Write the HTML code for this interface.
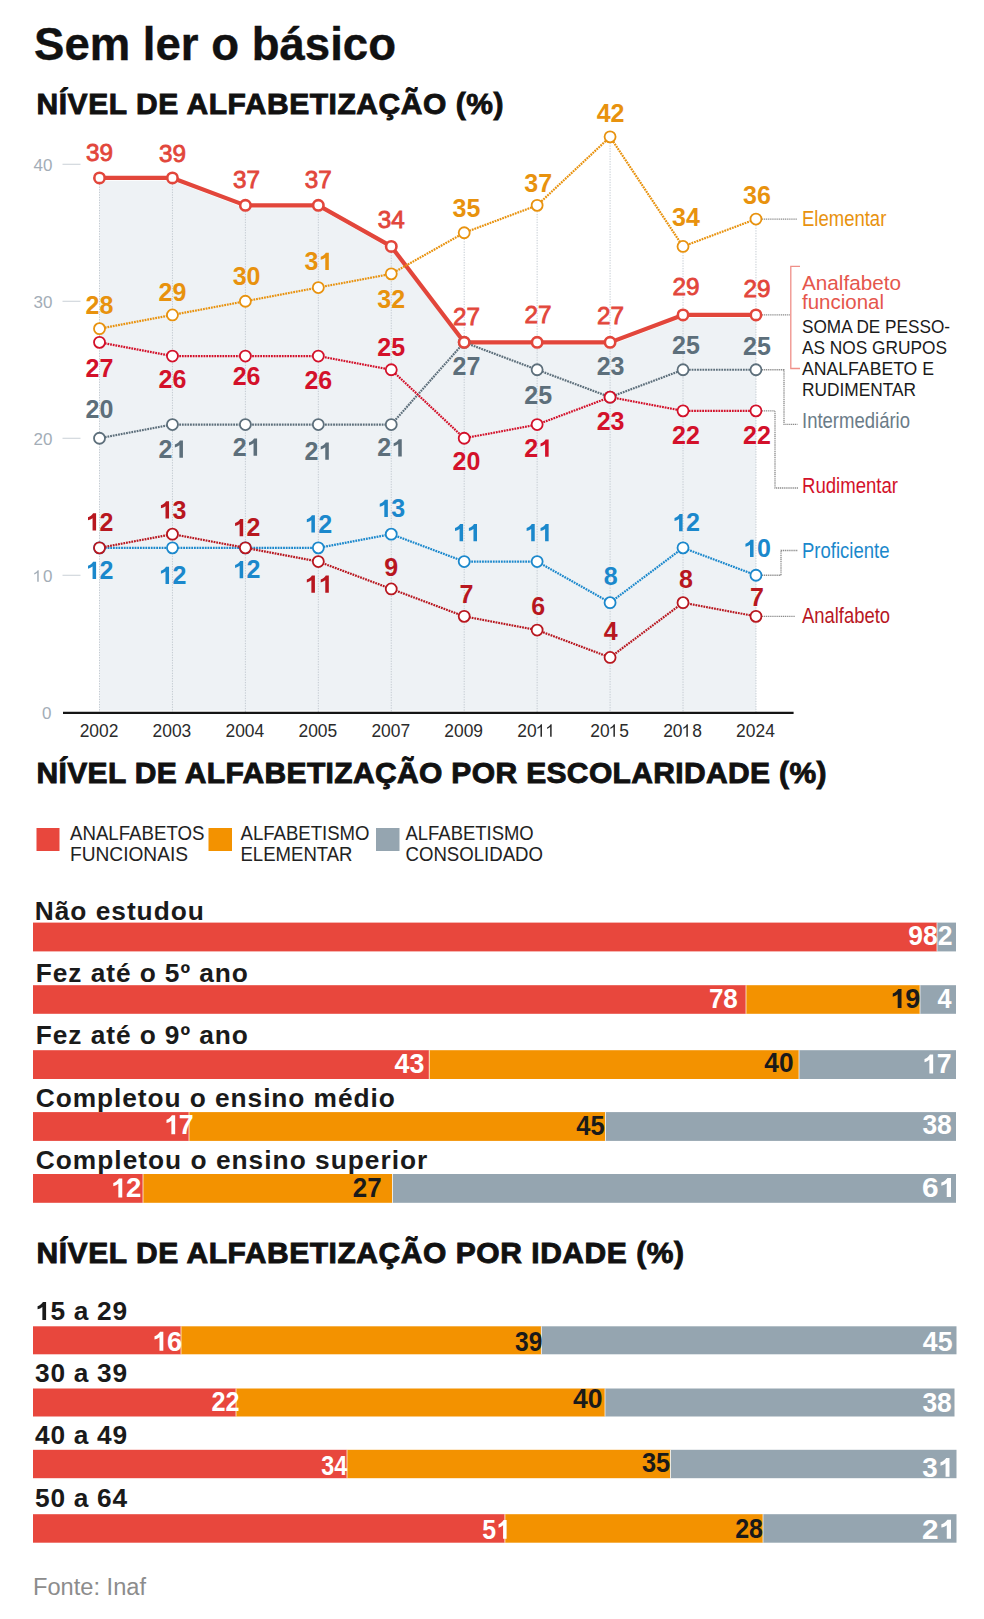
<!DOCTYPE html>
<html><head><meta charset="utf-8"><title>Sem ler o básico</title>
<style>
html,body{margin:0;padding:0;background:#fff;}
body{width:984px;height:1619px;overflow:hidden;}
svg{display:block;font-family:"Liberation Sans", sans-serif;}
</style></head><body>
<svg width="984" height="1619" viewBox="0 0 984 1619">
<rect width="984" height="1619" fill="#fff"/>
<polygon points="99.50,710.5 99.50,180.75 172.44,180.75 245.38,208.15 318.32,208.15 391.26,249.25 464.20,345.15 537.14,345.15 610.08,345.15 683.02,317.75 755.96,317.75 755.96,710.5" fill="#eef2f5"/>
<line x1="99.50" y1="183.95" x2="99.50" y2="712" stroke="#c3cad1" stroke-width="1" stroke-dasharray="1.3 1.3"/>
<line x1="172.44" y1="183.95" x2="172.44" y2="712" stroke="#c3cad1" stroke-width="1" stroke-dasharray="1.3 1.3"/>
<line x1="245.38" y1="211.35" x2="245.38" y2="712" stroke="#c3cad1" stroke-width="1" stroke-dasharray="1.3 1.3"/>
<line x1="318.32" y1="211.35" x2="318.32" y2="712" stroke="#c3cad1" stroke-width="1" stroke-dasharray="1.3 1.3"/>
<line x1="391.26" y1="252.45" x2="391.26" y2="712" stroke="#c3cad1" stroke-width="1" stroke-dasharray="1.3 1.3"/>
<line x1="464.20" y1="238.75" x2="464.20" y2="712" stroke="#c3cad1" stroke-width="1" stroke-dasharray="1.3 1.3"/>
<line x1="537.14" y1="211.35" x2="537.14" y2="712" stroke="#c3cad1" stroke-width="1" stroke-dasharray="1.3 1.3"/>
<line x1="610.08" y1="142.85" x2="610.08" y2="712" stroke="#c3cad1" stroke-width="1" stroke-dasharray="1.3 1.3"/>
<line x1="683.02" y1="252.45" x2="683.02" y2="712" stroke="#c3cad1" stroke-width="1" stroke-dasharray="1.3 1.3"/>
<line x1="755.96" y1="225.05" x2="755.96" y2="712" stroke="#c3cad1" stroke-width="1" stroke-dasharray="1.3 1.3"/>
<line x1="62.5" y1="575.25" x2="80.5" y2="575.25" stroke="#c9d0d6" stroke-width="1"/>
<text x="33.49" y="581.85" font-size="17" fill="#a3adb7" textLength="18.91" lengthAdjust="spacingAndGlyphs"> 0</text>
<path d="M630,0L450,0L450,1100C407,1062 350,1022 280,983C210,944 147,914 92,895L92,1062C191,1107 278,1161 352,1224C426,1287 478,1347 509,1409L630,1409Z" fill="#a3adb7" transform="translate(33.49,581.85) scale(0.00830,-0.00830)"/>
<line x1="62.5" y1="438.25" x2="80.5" y2="438.25" stroke="#c9d0d6" stroke-width="1"/>
<text x="33.49" y="444.85" font-size="17" fill="#a3adb7" textLength="18.91" lengthAdjust="spacingAndGlyphs">20</text>
<line x1="62.5" y1="301.25" x2="80.5" y2="301.25" stroke="#c9d0d6" stroke-width="1"/>
<text x="33.49" y="307.85" font-size="17" fill="#a3adb7" textLength="18.91" lengthAdjust="spacingAndGlyphs">30</text>
<line x1="62.5" y1="164.25" x2="80.5" y2="164.25" stroke="#c9d0d6" stroke-width="1"/>
<text x="33.49" y="170.85" font-size="17" fill="#a3adb7" textLength="18.91" lengthAdjust="spacingAndGlyphs">40</text>
<text x="51.5" y="719.45" text-anchor="end" font-size="17" fill="#a3adb7">0</text>
<line x1="63" y1="712.8" x2="793.6" y2="712.8" stroke="#151515" stroke-width="2.2"/>
<text x="79.65" y="736.75" font-size="18" fill="#2b2b2b" textLength="38.70" lengthAdjust="spacingAndGlyphs">2002</text>
<text x="152.59" y="736.75" font-size="18" fill="#2b2b2b" textLength="38.70" lengthAdjust="spacingAndGlyphs">2003</text>
<text x="225.53" y="736.75" font-size="18" fill="#2b2b2b" textLength="38.70" lengthAdjust="spacingAndGlyphs">2004</text>
<text x="298.47" y="736.75" font-size="18" fill="#2b2b2b" textLength="38.70" lengthAdjust="spacingAndGlyphs">2005</text>
<text x="371.41" y="736.75" font-size="18" fill="#2b2b2b" textLength="38.70" lengthAdjust="spacingAndGlyphs">2007</text>
<text x="444.35" y="736.75" font-size="18" fill="#2b2b2b" textLength="38.70" lengthAdjust="spacingAndGlyphs">2009</text>
<text x="517.29" y="736.75" font-size="18" fill="#2b2b2b" textLength="38.70" lengthAdjust="spacingAndGlyphs">20  </text>
<path d="M630,0L450,0L450,1100C407,1062 350,1022 280,983C210,944 147,914 92,895L92,1062C191,1107 278,1161 352,1224C426,1287 478,1347 509,1409L630,1409Z" fill="#2b2b2b" transform="translate(536.64,736.75) scale(0.00849,-0.00879)"/>
<path d="M630,0L450,0L450,1100C407,1062 350,1022 280,983C210,944 147,914 92,895L92,1062C191,1107 278,1161 352,1224C426,1287 478,1347 509,1409L630,1409Z" fill="#2b2b2b" transform="translate(546.31,736.75) scale(0.00849,-0.00879)"/>
<text x="590.23" y="736.75" font-size="18" fill="#2b2b2b" textLength="38.70" lengthAdjust="spacingAndGlyphs">20 5</text>
<path d="M630,0L450,0L450,1100C407,1062 350,1022 280,983C210,944 147,914 92,895L92,1062C191,1107 278,1161 352,1224C426,1287 478,1347 509,1409L630,1409Z" fill="#2b2b2b" transform="translate(609.58,736.75) scale(0.00849,-0.00879)"/>
<text x="663.17" y="736.75" font-size="18" fill="#2b2b2b" textLength="38.70" lengthAdjust="spacingAndGlyphs">20 8</text>
<path d="M630,0L450,0L450,1100C407,1062 350,1022 280,983C210,944 147,914 92,895L92,1062C191,1107 278,1161 352,1224C426,1287 478,1347 509,1409L630,1409Z" fill="#2b2b2b" transform="translate(682.52,736.75) scale(0.00849,-0.00879)"/>
<text x="736.11" y="736.75" font-size="18" fill="#2b2b2b" textLength="38.70" lengthAdjust="spacingAndGlyphs">2024</text>
<path d="M762.0,219.05 H797" fill="none" stroke="#8c8c8c" stroke-width="1.3" stroke-dasharray="1.2 0.7"/>
<path d="M762.0,314.95 H790" fill="none" stroke="#8c8c8c" stroke-width="1.3" stroke-dasharray="1.2 0.7"/>
<path d="M762.0,369.75 H784 V424.3 H797.5" fill="none" stroke="#8c8c8c" stroke-width="1.3" stroke-dasharray="1.2 0.7"/>
<path d="M762.0,410.85 H775 V488 H798" fill="none" stroke="#8c8c8c" stroke-width="1.3" stroke-dasharray="1.2 0.7"/>
<path d="M762.0,575.25 H781 V550.5 H797.5" fill="none" stroke="#8c8c8c" stroke-width="1.3" stroke-dasharray="1.2 0.7"/>
<path d="M762.0,616.35 H795" fill="none" stroke="#8c8c8c" stroke-width="1.3" stroke-dasharray="1.2 0.7"/>
<path d="M800,266.4 H790.8 V368.5 H800" fill="none" stroke="#ef8f88" stroke-width="1.3"/>
<polyline points="99.50,177.95 172.44,177.95 245.38,205.35 318.32,205.35 391.26,246.45 464.20,342.35 537.14,342.35 610.08,342.35 683.02,314.95 755.96,314.95" fill="none" stroke="#e2463b" stroke-width="4.2" stroke-linejoin="round"/>
<polyline points="99.50,438.25 172.44,424.55 245.38,424.55 318.32,424.55 391.26,424.55 464.20,342.35 537.14,369.75 610.08,397.15 683.02,369.75 755.96,369.75" fill="none" stroke="#5d6f7b" stroke-width="2.2" stroke-dasharray="1.8 0.9" stroke-linejoin="round"/>
<circle cx="99.50" cy="438.25" r="5.5" fill="#fff" stroke="#5d6f7b" stroke-width="1.8"/>
<circle cx="172.44" cy="424.55" r="5.5" fill="#fff" stroke="#5d6f7b" stroke-width="1.8"/>
<circle cx="245.38" cy="424.55" r="5.5" fill="#fff" stroke="#5d6f7b" stroke-width="1.8"/>
<circle cx="318.32" cy="424.55" r="5.5" fill="#fff" stroke="#5d6f7b" stroke-width="1.8"/>
<circle cx="391.26" cy="424.55" r="5.5" fill="#fff" stroke="#5d6f7b" stroke-width="1.8"/>
<circle cx="464.20" cy="342.35" r="5.5" fill="#fff" stroke="#5d6f7b" stroke-width="1.8"/>
<circle cx="537.14" cy="369.75" r="5.5" fill="#fff" stroke="#5d6f7b" stroke-width="1.8"/>
<circle cx="610.08" cy="397.15" r="5.5" fill="#fff" stroke="#5d6f7b" stroke-width="1.8"/>
<circle cx="683.02" cy="369.75" r="5.5" fill="#fff" stroke="#5d6f7b" stroke-width="1.8"/>
<circle cx="755.96" cy="369.75" r="5.5" fill="#fff" stroke="#5d6f7b" stroke-width="1.8"/>
<polyline points="99.50,547.85 172.44,547.85 245.38,547.85 318.32,547.85 391.26,534.15 464.20,561.55 537.14,561.55 610.08,602.65 683.02,547.85 755.96,575.25" fill="none" stroke="#1b88cc" stroke-width="2.2" stroke-dasharray="1.8 0.9" stroke-linejoin="round"/>
<circle cx="99.50" cy="547.85" r="5.5" fill="#fff" stroke="#1b88cc" stroke-width="1.8"/>
<circle cx="172.44" cy="547.85" r="5.5" fill="#fff" stroke="#1b88cc" stroke-width="1.8"/>
<circle cx="245.38" cy="547.85" r="5.5" fill="#fff" stroke="#1b88cc" stroke-width="1.8"/>
<circle cx="318.32" cy="547.85" r="5.5" fill="#fff" stroke="#1b88cc" stroke-width="1.8"/>
<circle cx="391.26" cy="534.15" r="5.5" fill="#fff" stroke="#1b88cc" stroke-width="1.8"/>
<circle cx="464.20" cy="561.55" r="5.5" fill="#fff" stroke="#1b88cc" stroke-width="1.8"/>
<circle cx="537.14" cy="561.55" r="5.5" fill="#fff" stroke="#1b88cc" stroke-width="1.8"/>
<circle cx="610.08" cy="602.65" r="5.5" fill="#fff" stroke="#1b88cc" stroke-width="1.8"/>
<circle cx="683.02" cy="547.85" r="5.5" fill="#fff" stroke="#1b88cc" stroke-width="1.8"/>
<circle cx="755.96" cy="575.25" r="5.5" fill="#fff" stroke="#1b88cc" stroke-width="1.8"/>
<polyline points="99.50,547.85 172.44,534.15 245.38,547.85 318.32,561.55 391.26,588.95 464.20,616.35 537.14,630.05 610.08,657.45 683.02,602.65 755.96,616.35" fill="none" stroke="#b8171f" stroke-width="2.2" stroke-dasharray="1.8 0.9" stroke-linejoin="round"/>
<circle cx="99.50" cy="547.85" r="5.5" fill="#fff" stroke="#b8171f" stroke-width="1.8"/>
<circle cx="172.44" cy="534.15" r="5.5" fill="#fff" stroke="#b8171f" stroke-width="1.8"/>
<circle cx="245.38" cy="547.85" r="5.5" fill="#fff" stroke="#b8171f" stroke-width="1.8"/>
<circle cx="318.32" cy="561.55" r="5.5" fill="#fff" stroke="#b8171f" stroke-width="1.8"/>
<circle cx="391.26" cy="588.95" r="5.5" fill="#fff" stroke="#b8171f" stroke-width="1.8"/>
<circle cx="464.20" cy="616.35" r="5.5" fill="#fff" stroke="#b8171f" stroke-width="1.8"/>
<circle cx="537.14" cy="630.05" r="5.5" fill="#fff" stroke="#b8171f" stroke-width="1.8"/>
<circle cx="610.08" cy="657.45" r="5.5" fill="#fff" stroke="#b8171f" stroke-width="1.8"/>
<circle cx="683.02" cy="602.65" r="5.5" fill="#fff" stroke="#b8171f" stroke-width="1.8"/>
<circle cx="755.96" cy="616.35" r="5.5" fill="#fff" stroke="#b8171f" stroke-width="1.8"/>
<polyline points="99.50,342.35 172.44,356.05 245.38,356.05 318.32,356.05 391.26,369.75 464.20,438.25 537.14,424.55 610.08,397.15 683.02,410.85 755.96,410.85" fill="none" stroke="#d3112a" stroke-width="2.2" stroke-dasharray="1.8 0.9" stroke-linejoin="round"/>
<circle cx="99.50" cy="342.35" r="5.5" fill="#fff" stroke="#d3112a" stroke-width="1.8"/>
<circle cx="172.44" cy="356.05" r="5.5" fill="#fff" stroke="#d3112a" stroke-width="1.8"/>
<circle cx="245.38" cy="356.05" r="5.5" fill="#fff" stroke="#d3112a" stroke-width="1.8"/>
<circle cx="318.32" cy="356.05" r="5.5" fill="#fff" stroke="#d3112a" stroke-width="1.8"/>
<circle cx="391.26" cy="369.75" r="5.5" fill="#fff" stroke="#d3112a" stroke-width="1.8"/>
<circle cx="464.20" cy="438.25" r="5.5" fill="#fff" stroke="#d3112a" stroke-width="1.8"/>
<circle cx="537.14" cy="424.55" r="5.5" fill="#fff" stroke="#d3112a" stroke-width="1.8"/>
<circle cx="610.08" cy="397.15" r="5.5" fill="#fff" stroke="#d3112a" stroke-width="1.8"/>
<circle cx="683.02" cy="410.85" r="5.5" fill="#fff" stroke="#d3112a" stroke-width="1.8"/>
<circle cx="755.96" cy="410.85" r="5.5" fill="#fff" stroke="#d3112a" stroke-width="1.8"/>
<polyline points="99.50,328.65 172.44,314.95 245.38,301.25 318.32,287.55 391.26,273.85 464.20,232.75 537.14,205.35 610.08,136.85 683.02,246.45 755.96,219.05" fill="none" stroke="#e8920e" stroke-width="2.2" stroke-dasharray="1.8 0.9" stroke-linejoin="round"/>
<circle cx="99.50" cy="328.65" r="5.5" fill="#fff" stroke="#e8920e" stroke-width="1.8"/>
<circle cx="172.44" cy="314.95" r="5.5" fill="#fff" stroke="#e8920e" stroke-width="1.8"/>
<circle cx="245.38" cy="301.25" r="5.5" fill="#fff" stroke="#e8920e" stroke-width="1.8"/>
<circle cx="318.32" cy="287.55" r="5.5" fill="#fff" stroke="#e8920e" stroke-width="1.8"/>
<circle cx="391.26" cy="273.85" r="5.5" fill="#fff" stroke="#e8920e" stroke-width="1.8"/>
<circle cx="464.20" cy="232.75" r="5.5" fill="#fff" stroke="#e8920e" stroke-width="1.8"/>
<circle cx="537.14" cy="205.35" r="5.5" fill="#fff" stroke="#e8920e" stroke-width="1.8"/>
<circle cx="610.08" cy="136.85" r="5.5" fill="#fff" stroke="#e8920e" stroke-width="1.8"/>
<circle cx="683.02" cy="246.45" r="5.5" fill="#fff" stroke="#e8920e" stroke-width="1.8"/>
<circle cx="755.96" cy="219.05" r="5.5" fill="#fff" stroke="#e8920e" stroke-width="1.8"/>
<circle cx="99.50" cy="177.95" r="5.2" fill="#fff" stroke="#e2463b" stroke-width="2.6"/>
<circle cx="172.44" cy="177.95" r="5.2" fill="#fff" stroke="#e2463b" stroke-width="2.6"/>
<circle cx="245.38" cy="205.35" r="5.2" fill="#fff" stroke="#e2463b" stroke-width="2.6"/>
<circle cx="318.32" cy="205.35" r="5.2" fill="#fff" stroke="#e2463b" stroke-width="2.6"/>
<circle cx="391.26" cy="246.45" r="5.2" fill="#fff" stroke="#e2463b" stroke-width="2.6"/>
<circle cx="464.20" cy="342.35" r="5.2" fill="#fff" stroke="#e2463b" stroke-width="2.6"/>
<circle cx="537.14" cy="342.35" r="5.2" fill="#fff" stroke="#e2463b" stroke-width="2.6"/>
<circle cx="610.08" cy="342.35" r="5.2" fill="#fff" stroke="#e2463b" stroke-width="2.6"/>
<circle cx="683.02" cy="314.95" r="5.2" fill="#fff" stroke="#e2463b" stroke-width="2.6"/>
<circle cx="755.96" cy="314.95" r="5.2" fill="#fff" stroke="#e2463b" stroke-width="2.6"/>
<text x="86.00" y="161.25" font-size="23.5" fill="#e2463b" stroke="#e2463b" stroke-width="0.8" textLength="27" lengthAdjust="spacingAndGlyphs">39</text>
<text x="158.94" y="162.00" font-size="23.5" fill="#e2463b" stroke="#e2463b" stroke-width="0.8" textLength="27" lengthAdjust="spacingAndGlyphs">39</text>
<text x="233.08" y="187.50" font-size="23.5" fill="#e2463b" stroke="#e2463b" stroke-width="0.8" textLength="27" lengthAdjust="spacingAndGlyphs">37</text>
<text x="304.82" y="187.50" font-size="23.5" fill="#e2463b" stroke="#e2463b" stroke-width="0.8" textLength="27" lengthAdjust="spacingAndGlyphs">37</text>
<text x="377.76" y="228.25" font-size="23.5" fill="#e2463b" stroke="#e2463b" stroke-width="0.8" textLength="27" lengthAdjust="spacingAndGlyphs">34</text>
<text x="453.00" y="325.00" font-size="23.5" fill="#e2463b" stroke="#e2463b" stroke-width="0.8" textLength="27" lengthAdjust="spacingAndGlyphs">27</text>
<text x="524.64" y="323.00" font-size="23.5" fill="#e2463b" stroke="#e2463b" stroke-width="0.8" textLength="27" lengthAdjust="spacingAndGlyphs">27</text>
<text x="597.08" y="323.75" font-size="23.5" fill="#e2463b" stroke="#e2463b" stroke-width="0.8" textLength="27" lengthAdjust="spacingAndGlyphs">27</text>
<text x="672.52" y="295.00" font-size="23.5" fill="#e2463b" stroke="#e2463b" stroke-width="0.8" textLength="27" lengthAdjust="spacingAndGlyphs">29</text>
<text x="743.46" y="297.00" font-size="23.5" fill="#e2463b" stroke="#e2463b" stroke-width="0.8" textLength="27" lengthAdjust="spacingAndGlyphs">29</text>
<text x="85.60" y="313.75" font-size="25" font-weight="bold" fill="#e8920e" textLength="27.81" lengthAdjust="spacingAndGlyphs">28</text>
<text x="158.54" y="301.25" font-size="25" font-weight="bold" fill="#e8920e" textLength="27.81" lengthAdjust="spacingAndGlyphs">29</text>
<text x="232.68" y="284.50" font-size="25" font-weight="bold" fill="#e8920e" textLength="27.81" lengthAdjust="spacingAndGlyphs">30</text>
<text x="304.42" y="270.00" font-size="25" font-weight="bold" fill="#e8920e" textLength="27.81" lengthAdjust="spacingAndGlyphs">3 </text>
<path d="M860,0L570,0L570,1010C470,925 340,865 196,830L196,1080C290,1110 380,1160 460,1230C540,1300 590,1360 612,1409L860,1409Z" fill="#e8920e" transform="translate(318.32,270.00) scale(0.01221,-0.01221)"/>
<text x="452.60" y="217.00" font-size="25" font-weight="bold" fill="#e8920e" textLength="27.81" lengthAdjust="spacingAndGlyphs">35</text>
<text x="524.24" y="192.00" font-size="25" font-weight="bold" fill="#e8920e" textLength="27.81" lengthAdjust="spacingAndGlyphs">37</text>
<text x="596.68" y="122.00" font-size="25" font-weight="bold" fill="#e8920e" textLength="27.81" lengthAdjust="spacingAndGlyphs">42</text>
<text x="672.12" y="226.25" font-size="25" font-weight="bold" fill="#e8920e" textLength="27.81" lengthAdjust="spacingAndGlyphs">34</text>
<text x="743.06" y="203.75" font-size="25" font-weight="bold" fill="#e8920e" textLength="27.81" lengthAdjust="spacingAndGlyphs">36</text>
<text x="377.36" y="308.20" font-size="25" font-weight="bold" fill="#e8920e" textLength="27.81" lengthAdjust="spacingAndGlyphs">32</text>
<text x="85.60" y="377.20" font-size="25" font-weight="bold" fill="#d3112a" textLength="27.81" lengthAdjust="spacingAndGlyphs">27</text>
<text x="158.54" y="387.70" font-size="25" font-weight="bold" fill="#d3112a" textLength="27.81" lengthAdjust="spacingAndGlyphs">26</text>
<text x="232.68" y="385.20" font-size="25" font-weight="bold" fill="#d3112a" textLength="27.81" lengthAdjust="spacingAndGlyphs">26</text>
<text x="304.42" y="388.95" font-size="25" font-weight="bold" fill="#d3112a" textLength="27.81" lengthAdjust="spacingAndGlyphs">26</text>
<text x="452.60" y="470.20" font-size="25" font-weight="bold" fill="#d3112a" textLength="27.81" lengthAdjust="spacingAndGlyphs">20</text>
<text x="524.24" y="456.70" font-size="25" font-weight="bold" fill="#d3112a" textLength="27.81" lengthAdjust="spacingAndGlyphs">2 </text>
<path d="M860,0L570,0L570,1010C470,925 340,865 196,830L196,1080C290,1110 380,1160 460,1230C540,1300 590,1360 612,1409L860,1409Z" fill="#d3112a" transform="translate(538.14,456.70) scale(0.01221,-0.01221)"/>
<text x="596.68" y="430.20" font-size="25" font-weight="bold" fill="#d3112a" textLength="27.81" lengthAdjust="spacingAndGlyphs">23</text>
<text x="672.12" y="443.95" font-size="25" font-weight="bold" fill="#d3112a" textLength="27.81" lengthAdjust="spacingAndGlyphs">22</text>
<text x="743.06" y="443.95" font-size="25" font-weight="bold" fill="#d3112a" textLength="27.81" lengthAdjust="spacingAndGlyphs">22</text>
<text x="377.36" y="356.25" font-size="25" font-weight="bold" fill="#d3112a" textLength="27.81" lengthAdjust="spacingAndGlyphs">25</text>
<text x="85.60" y="418.00" font-size="25" font-weight="bold" fill="#5d6f7b" textLength="27.81" lengthAdjust="spacingAndGlyphs">20</text>
<text x="158.54" y="457.70" font-size="25" font-weight="bold" fill="#5d6f7b" textLength="27.81" lengthAdjust="spacingAndGlyphs">2 </text>
<path d="M860,0L570,0L570,1010C470,925 340,865 196,830L196,1080C290,1110 380,1160 460,1230C540,1300 590,1360 612,1409L860,1409Z" fill="#5d6f7b" transform="translate(172.44,457.70) scale(0.01221,-0.01221)"/>
<text x="232.68" y="455.70" font-size="25" font-weight="bold" fill="#5d6f7b" textLength="27.81" lengthAdjust="spacingAndGlyphs">2 </text>
<path d="M860,0L570,0L570,1010C470,925 340,865 196,830L196,1080C290,1110 380,1160 460,1230C540,1300 590,1360 612,1409L860,1409Z" fill="#5d6f7b" transform="translate(246.58,455.70) scale(0.01221,-0.01221)"/>
<text x="304.42" y="459.70" font-size="25" font-weight="bold" fill="#5d6f7b" textLength="27.81" lengthAdjust="spacingAndGlyphs">2 </text>
<path d="M860,0L570,0L570,1010C470,925 340,865 196,830L196,1080C290,1110 380,1160 460,1230C540,1300 590,1360 612,1409L860,1409Z" fill="#5d6f7b" transform="translate(318.32,459.70) scale(0.01221,-0.01221)"/>
<text x="377.36" y="456.45" font-size="25" font-weight="bold" fill="#5d6f7b" textLength="27.81" lengthAdjust="spacingAndGlyphs">2 </text>
<path d="M860,0L570,0L570,1010C470,925 340,865 196,830L196,1080C290,1110 380,1160 460,1230C540,1300 590,1360 612,1409L860,1409Z" fill="#5d6f7b" transform="translate(391.26,456.45) scale(0.01221,-0.01221)"/>
<text x="452.60" y="375.20" font-size="25" font-weight="bold" fill="#5d6f7b" textLength="27.81" lengthAdjust="spacingAndGlyphs">27</text>
<text x="524.24" y="403.95" font-size="25" font-weight="bold" fill="#5d6f7b" textLength="27.81" lengthAdjust="spacingAndGlyphs">25</text>
<text x="596.68" y="375.00" font-size="25" font-weight="bold" fill="#5d6f7b" textLength="27.81" lengthAdjust="spacingAndGlyphs">23</text>
<text x="672.12" y="353.75" font-size="25" font-weight="bold" fill="#5d6f7b" textLength="27.81" lengthAdjust="spacingAndGlyphs">25</text>
<text x="743.06" y="354.50" font-size="25" font-weight="bold" fill="#5d6f7b" textLength="27.81" lengthAdjust="spacingAndGlyphs">25</text>
<text x="85.60" y="578.95" font-size="25" font-weight="bold" fill="#1b88cc" textLength="27.81" lengthAdjust="spacingAndGlyphs"> 2</text>
<path d="M860,0L570,0L570,1010C470,925 340,865 196,830L196,1080C290,1110 380,1160 460,1230C540,1300 590,1360 612,1409L860,1409Z" fill="#1b88cc" transform="translate(85.60,578.95) scale(0.01221,-0.01221)"/>
<text x="158.54" y="583.95" font-size="25" font-weight="bold" fill="#1b88cc" textLength="27.81" lengthAdjust="spacingAndGlyphs"> 2</text>
<path d="M860,0L570,0L570,1010C470,925 340,865 196,830L196,1080C290,1110 380,1160 460,1230C540,1300 590,1360 612,1409L860,1409Z" fill="#1b88cc" transform="translate(158.54,583.95) scale(0.01221,-0.01221)"/>
<text x="232.68" y="578.20" font-size="25" font-weight="bold" fill="#1b88cc" textLength="27.81" lengthAdjust="spacingAndGlyphs"> 2</text>
<path d="M860,0L570,0L570,1010C470,925 340,865 196,830L196,1080C290,1110 380,1160 460,1230C540,1300 590,1360 612,1409L860,1409Z" fill="#1b88cc" transform="translate(232.68,578.20) scale(0.01221,-0.01221)"/>
<text x="304.42" y="532.50" font-size="25" font-weight="bold" fill="#1b88cc" textLength="27.81" lengthAdjust="spacingAndGlyphs"> 2</text>
<path d="M860,0L570,0L570,1010C470,925 340,865 196,830L196,1080C290,1110 380,1160 460,1230C540,1300 590,1360 612,1409L860,1409Z" fill="#1b88cc" transform="translate(304.42,532.50) scale(0.01221,-0.01221)"/>
<text x="377.36" y="517.00" font-size="25" font-weight="bold" fill="#1b88cc" textLength="27.81" lengthAdjust="spacingAndGlyphs"> 3</text>
<path d="M860,0L570,0L570,1010C470,925 340,865 196,830L196,1080C290,1110 380,1160 460,1230C540,1300 590,1360 612,1409L860,1409Z" fill="#1b88cc" transform="translate(377.36,517.00) scale(0.01221,-0.01221)"/>
<text x="452.60" y="541.25" font-size="25" font-weight="bold" fill="#1b88cc" textLength="27.81" lengthAdjust="spacingAndGlyphs">  </text>
<path d="M860,0L570,0L570,1010C470,925 340,865 196,830L196,1080C290,1110 380,1160 460,1230C540,1300 590,1360 612,1409L860,1409Z" fill="#1b88cc" transform="translate(452.60,541.25) scale(0.01221,-0.01221)"/>
<path d="M860,0L570,0L570,1010C470,925 340,865 196,830L196,1080C290,1110 380,1160 460,1230C540,1300 590,1360 612,1409L860,1409Z" fill="#1b88cc" transform="translate(466.50,541.25) scale(0.01221,-0.01221)"/>
<text x="524.24" y="541.25" font-size="25" font-weight="bold" fill="#1b88cc" textLength="27.81" lengthAdjust="spacingAndGlyphs">  </text>
<path d="M860,0L570,0L570,1010C470,925 340,865 196,830L196,1080C290,1110 380,1160 460,1230C540,1300 590,1360 612,1409L860,1409Z" fill="#1b88cc" transform="translate(524.24,541.25) scale(0.01221,-0.01221)"/>
<path d="M860,0L570,0L570,1010C470,925 340,865 196,830L196,1080C290,1110 380,1160 460,1230C540,1300 590,1360 612,1409L860,1409Z" fill="#1b88cc" transform="translate(538.14,541.25) scale(0.01221,-0.01221)"/>
<text x="603.63" y="584.50" font-size="25" font-weight="bold" fill="#1b88cc" textLength="13.90" lengthAdjust="spacingAndGlyphs">8</text>
<text x="672.12" y="531.25" font-size="25" font-weight="bold" fill="#1b88cc" textLength="27.81" lengthAdjust="spacingAndGlyphs"> 2</text>
<path d="M860,0L570,0L570,1010C470,925 340,865 196,830L196,1080C290,1110 380,1160 460,1230C540,1300 590,1360 612,1409L860,1409Z" fill="#1b88cc" transform="translate(672.12,531.25) scale(0.01221,-0.01221)"/>
<text x="743.06" y="557.00" font-size="25" font-weight="bold" fill="#1b88cc" textLength="27.81" lengthAdjust="spacingAndGlyphs"> 0</text>
<path d="M860,0L570,0L570,1010C470,925 340,865 196,830L196,1080C290,1110 380,1160 460,1230C540,1300 590,1360 612,1409L860,1409Z" fill="#1b88cc" transform="translate(743.06,557.00) scale(0.01221,-0.01221)"/>
<text x="85.60" y="530.50" font-size="25" font-weight="bold" fill="#b8171f" textLength="27.81" lengthAdjust="spacingAndGlyphs"> 2</text>
<path d="M860,0L570,0L570,1010C470,925 340,865 196,830L196,1080C290,1110 380,1160 460,1230C540,1300 590,1360 612,1409L860,1409Z" fill="#b8171f" transform="translate(85.60,530.50) scale(0.01221,-0.01221)"/>
<text x="158.54" y="518.50" font-size="25" font-weight="bold" fill="#b8171f" textLength="27.81" lengthAdjust="spacingAndGlyphs"> 3</text>
<path d="M860,0L570,0L570,1010C470,925 340,865 196,830L196,1080C290,1110 380,1160 460,1230C540,1300 590,1360 612,1409L860,1409Z" fill="#b8171f" transform="translate(158.54,518.50) scale(0.01221,-0.01221)"/>
<text x="232.68" y="536.25" font-size="25" font-weight="bold" fill="#b8171f" textLength="27.81" lengthAdjust="spacingAndGlyphs"> 2</text>
<path d="M860,0L570,0L570,1010C470,925 340,865 196,830L196,1080C290,1110 380,1160 460,1230C540,1300 590,1360 612,1409L860,1409Z" fill="#b8171f" transform="translate(232.68,536.25) scale(0.01221,-0.01221)"/>
<text x="384.31" y="576.25" font-size="25" font-weight="bold" fill="#b8171f" textLength="13.90" lengthAdjust="spacingAndGlyphs">9</text>
<text x="459.55" y="602.50" font-size="25" font-weight="bold" fill="#b8171f" textLength="13.90" lengthAdjust="spacingAndGlyphs">7</text>
<text x="531.19" y="614.50" font-size="25" font-weight="bold" fill="#b8171f" textLength="13.90" lengthAdjust="spacingAndGlyphs">6</text>
<text x="603.63" y="640.00" font-size="25" font-weight="bold" fill="#b8171f" textLength="13.90" lengthAdjust="spacingAndGlyphs">4</text>
<text x="679.07" y="588.00" font-size="25" font-weight="bold" fill="#b8171f" textLength="13.90" lengthAdjust="spacingAndGlyphs">8</text>
<text x="750.01" y="605.50" font-size="25" font-weight="bold" fill="#b8171f" textLength="13.90" lengthAdjust="spacingAndGlyphs">7</text>
<text x="304.42" y="592.70" font-size="25" font-weight="bold" fill="#b8171f" textLength="27.81" lengthAdjust="spacingAndGlyphs">  </text>
<path d="M860,0L570,0L570,1010C470,925 340,865 196,830L196,1080C290,1110 380,1160 460,1230C540,1300 590,1360 612,1409L860,1409Z" fill="#b8171f" transform="translate(304.42,592.70) scale(0.01221,-0.01221)"/>
<path d="M860,0L570,0L570,1010C470,925 340,865 196,830L196,1080C290,1110 380,1160 460,1230C540,1300 590,1360 612,1409L860,1409Z" fill="#b8171f" transform="translate(318.32,592.70) scale(0.01221,-0.01221)"/>
<text x="802" y="225.5" font-size="21.5" fill="#e8920e" textLength="84.3" lengthAdjust="spacingAndGlyphs">Elementar</text>
<text x="802" y="290.4" font-size="20.5" fill="#e5564c" textLength="99" lengthAdjust="spacingAndGlyphs">Analfabeto</text>
<text x="802" y="309" font-size="20.5" fill="#e5564c" textLength="82" lengthAdjust="spacingAndGlyphs">funcional</text>
<text x="802" y="332.6" font-size="18.3" fill="#1a1a1a" textLength="148" lengthAdjust="spacingAndGlyphs">SOMA DE PESSO-</text>
<text x="802" y="353.6" font-size="18.3" fill="#1a1a1a" textLength="145" lengthAdjust="spacingAndGlyphs">AS NOS GRUPOS</text>
<text x="802" y="374.7" font-size="18.3" fill="#1a1a1a" textLength="132" lengthAdjust="spacingAndGlyphs">ANALFABETO E</text>
<text x="802" y="395.8" font-size="18.3" fill="#1a1a1a" textLength="114" lengthAdjust="spacingAndGlyphs">RUDIMENTAR</text>
<text x="802" y="427.8" font-size="21.5" fill="#6b7c88" textLength="108" lengthAdjust="spacingAndGlyphs">Intermediário</text>
<text x="802" y="493" font-size="21.5" fill="#d3112a" textLength="96" lengthAdjust="spacingAndGlyphs">Rudimentar</text>
<text x="802" y="557.5" font-size="21.5" fill="#1b88cc" textLength="87.5" lengthAdjust="spacingAndGlyphs">Proficiente</text>
<text x="802" y="622.7" font-size="21.5" fill="#b8171f" textLength="88" lengthAdjust="spacingAndGlyphs">Analfabeto</text>
<text x="34" y="59.8" font-size="47" font-weight="bold" fill="#111" stroke="#111" stroke-width="0.4" textLength="362" lengthAdjust="spacingAndGlyphs">Sem ler o básico</text>
<text x="36.5" y="113.7" font-size="30" font-weight="bold" fill="#111" stroke="#111" stroke-width="0.9" textLength="467" lengthAdjust="spacing">NÍVEL DE ALFABETIZAÇÃO (%)</text>
<text x="36.5" y="782.8" font-size="30" font-weight="bold" fill="#111" stroke="#111" stroke-width="0.9" textLength="790" lengthAdjust="spacing">NÍVEL DE ALFABETIZAÇÃO POR ESCOLARIDADE (%)</text>
<text x="36.5" y="1263" font-size="30" font-weight="bold" fill="#111" stroke="#111" stroke-width="0.9" textLength="647.5" lengthAdjust="spacing">NÍVEL DE ALFABETIZAÇÃO POR IDADE (%)</text>
<rect x="36.5" y="828" width="23" height="23" fill="#e8473d"/>
<rect x="208.5" y="828" width="23.5" height="23" fill="#f39200"/>
<rect x="376" y="828" width="23.5" height="23" fill="#95a5b0"/>
<text x="70" y="839.5" font-size="19.5" fill="#222" textLength="134.5" lengthAdjust="spacingAndGlyphs">ANALFABETOS</text>
<text x="70" y="860.5" font-size="19.5" fill="#222" textLength="118" lengthAdjust="spacingAndGlyphs">FUNCIONAIS</text>
<text x="240.5" y="839.5" font-size="19.5" fill="#222" textLength="129" lengthAdjust="spacingAndGlyphs">ALFABETISMO</text>
<text x="240.5" y="860.5" font-size="19.5" fill="#222" textLength="112" lengthAdjust="spacingAndGlyphs">ELEMENTAR</text>
<text x="405.5" y="839.5" font-size="19.5" fill="#222" textLength="128.2" lengthAdjust="spacingAndGlyphs">ALFABETISMO</text>
<text x="405.5" y="860.5" font-size="19.5" fill="#222" textLength="137.5" lengthAdjust="spacingAndGlyphs">CONSOLIDADO</text>
<text x="34.80" y="920" font-size="26.3" font-weight="bold" fill="#1a1a1a" textLength="169.00" lengthAdjust="spacing">Não estudou</text>
<rect x="33.00" y="922.6" width="904.00" height="28.8" fill="#e8473d"/>
<rect x="937.00" y="922.6" width="19.00" height="28.8" fill="#95a5b0"/>
<rect x="936.50" y="922.6" width="1" height="28.8" fill="#fff" opacity="0.7"/>
<text x="908.18" y="944.90" font-size="27.5" font-weight="bold" fill="#fff" textLength="29.43" lengthAdjust="spacingAndGlyphs">98</text>
<text x="937.68" y="944.90" font-size="27.5" font-weight="bold" fill="#fff" textLength="14.79" lengthAdjust="spacingAndGlyphs">2</text>
<text x="35.80" y="982" font-size="26.3" font-weight="bold" fill="#1a1a1a" textLength="212.00" lengthAdjust="spacing">Fez até o 5º ano</text>
<rect x="33.00" y="985.2" width="713.00" height="28.6" fill="#e8473d"/>
<rect x="746.00" y="985.2" width="174.00" height="28.6" fill="#f39200"/>
<rect x="920.00" y="985.2" width="36.00" height="28.6" fill="#95a5b0"/>
<rect x="745.50" y="985.2" width="1" height="28.6" fill="#fff" opacity="0.7"/>
<rect x="919.50" y="985.2" width="1" height="28.6" fill="#fff" opacity="0.7"/>
<text x="708.88" y="1007.70" font-size="27.5" font-weight="bold" fill="#fff" textLength="28.92" lengthAdjust="spacingAndGlyphs">78</text>
<text x="890.17" y="1007.90" font-size="27.5" font-weight="bold" fill="#1a1a1a" textLength="30.04" lengthAdjust="spacingAndGlyphs"> 9</text>
<path d="M860,0L570,0L570,1010C470,925 340,865 196,830L196,1080C290,1110 380,1160 460,1230C540,1300 590,1360 612,1409L860,1409Z" fill="#1a1a1a" transform="translate(890.17,1007.90) scale(0.01319,-0.01343)"/>
<text x="937.52" y="1007.90" font-size="27.5" font-weight="bold" fill="#fff" textLength="14.02" lengthAdjust="spacingAndGlyphs">4</text>
<text x="35.80" y="1044.4" font-size="26.3" font-weight="bold" fill="#1a1a1a" textLength="212.00" lengthAdjust="spacing">Fez até o 9º ano</text>
<rect x="33.00" y="1050.2" width="396.25" height="28.8" fill="#e8473d"/>
<rect x="429.25" y="1050.2" width="369.75" height="28.8" fill="#f39200"/>
<rect x="799.00" y="1050.2" width="157.00" height="28.8" fill="#95a5b0"/>
<rect x="428.75" y="1050.2" width="1" height="28.8" fill="#fff" opacity="0.7"/>
<rect x="798.50" y="1050.2" width="1" height="28.8" fill="#fff" opacity="0.7"/>
<text x="394.59" y="1072.90" font-size="27.5" font-weight="bold" fill="#fff" textLength="29.88" lengthAdjust="spacingAndGlyphs">43</text>
<text x="764.35" y="1071.90" font-size="27.5" font-weight="bold" fill="#1a1a1a" textLength="29.23" lengthAdjust="spacingAndGlyphs">40</text>
<text x="921.94" y="1073.40" font-size="27.5" font-weight="bold" fill="#fff" textLength="29.73" lengthAdjust="spacingAndGlyphs"> 7</text>
<path d="M860,0L570,0L570,1010C470,925 340,865 196,830L196,1080C290,1110 380,1160 460,1230C540,1300 590,1360 612,1409L860,1409Z" fill="#fff" transform="translate(921.94,1073.40) scale(0.01305,-0.01343)"/>
<text x="35.80" y="1106.6" font-size="26.3" font-weight="bold" fill="#1a1a1a" textLength="359.00" lengthAdjust="spacing">Completou o ensino médio</text>
<rect x="33.00" y="1112.1" width="156.00" height="28.8" fill="#e8473d"/>
<rect x="189.00" y="1112.1" width="416.50" height="28.8" fill="#f39200"/>
<rect x="605.50" y="1112.1" width="350.50" height="28.8" fill="#95a5b0"/>
<rect x="188.50" y="1112.1" width="1" height="28.8" fill="#fff" opacity="0.7"/>
<rect x="605.00" y="1112.1" width="1" height="28.8" fill="#fff" opacity="0.7"/>
<text x="163.94" y="1134.20" font-size="27.5" font-weight="bold" fill="#fff" textLength="29.73" lengthAdjust="spacingAndGlyphs"> 7</text>
<path d="M860,0L570,0L570,1010C470,925 340,865 196,830L196,1080C290,1110 380,1160 460,1230C540,1300 590,1360 612,1409L860,1409Z" fill="#fff" transform="translate(163.94,1134.20) scale(0.01305,-0.01343)"/>
<text x="576.31" y="1135.40" font-size="27.5" font-weight="bold" fill="#1a1a1a" textLength="28.40" lengthAdjust="spacingAndGlyphs">45</text>
<text x="922.39" y="1134.20" font-size="27.5" font-weight="bold" fill="#fff" textLength="29.42" lengthAdjust="spacingAndGlyphs">38</text>
<text x="35.80" y="1168.8" font-size="26.3" font-weight="bold" fill="#1a1a1a" textLength="391.50" lengthAdjust="spacing">Completou o ensino superior</text>
<rect x="33.00" y="1174" width="110.00" height="28.8" fill="#e8473d"/>
<rect x="143.00" y="1174" width="249.50" height="28.8" fill="#f39200"/>
<rect x="392.50" y="1174" width="563.50" height="28.8" fill="#95a5b0"/>
<rect x="142.50" y="1174" width="1" height="28.8" fill="#fff" opacity="0.7"/>
<rect x="392.00" y="1174" width="1" height="28.8" fill="#fff" opacity="0.7"/>
<text x="110.65" y="1197.40" font-size="27.5" font-weight="bold" fill="#fff" textLength="30.75" lengthAdjust="spacingAndGlyphs"> 2</text>
<path d="M860,0L570,0L570,1010C470,925 340,865 196,830L196,1080C290,1110 380,1160 460,1230C540,1300 590,1360 612,1409L860,1409Z" fill="#fff" transform="translate(110.65,1197.40) scale(0.01350,-0.01343)"/>
<text x="352.80" y="1197.20" font-size="27.5" font-weight="bold" fill="#1a1a1a" textLength="28.84" lengthAdjust="spacingAndGlyphs">27</text>
<text x="921.91" y="1196.90" font-size="27.5" font-weight="bold" fill="#fff" textLength="33.15" lengthAdjust="spacingAndGlyphs">6 </text>
<path d="M860,0L570,0L570,1010C470,925 340,865 196,830L196,1080C290,1110 380,1160 460,1230C540,1300 590,1360 612,1409L860,1409Z" fill="#fff" transform="translate(938.48,1196.90) scale(0.01455,-0.01343)"/>
<text x="35.05" y="1320" font-size="26.3" font-weight="bold" fill="#1a1a1a" textLength="92.00" lengthAdjust="spacing"> 5 a 29</text>
<path d="M860,0L570,0L570,1010C470,925 340,865 196,830L196,1080C290,1110 380,1160 460,1230C540,1300 590,1360 612,1409L860,1409Z" fill="#1a1a1a" transform="translate(35.05,1320) scale(0.01284,-0.01284)"/>
<rect x="33.00" y="1326.3" width="148.00" height="28" fill="#e8473d"/>
<rect x="181.00" y="1326.3" width="360.40" height="28" fill="#f39200"/>
<rect x="541.40" y="1326.3" width="415.10" height="28" fill="#95a5b0"/>
<rect x="180.50" y="1326.3" width="1" height="28" fill="#fff" opacity="0.7"/>
<rect x="540.90" y="1326.3" width="1" height="28" fill="#fff" opacity="0.7"/>
<text x="151.89" y="1350.70" font-size="27.5" font-weight="bold" fill="#fff" textLength="30.29" lengthAdjust="spacingAndGlyphs"> 6</text>
<path d="M860,0L570,0L570,1010C470,925 340,865 196,830L196,1080C290,1110 380,1160 460,1230C540,1300 590,1360 612,1409L860,1409Z" fill="#fff" transform="translate(151.89,1350.70) scale(0.01330,-0.01343)"/>
<text x="514.94" y="1351.20" font-size="27.5" font-weight="bold" fill="#1a1a1a" textLength="27.38" lengthAdjust="spacingAndGlyphs">39</text>
<text x="922.80" y="1351.20" font-size="27.5" font-weight="bold" fill="#fff" textLength="29.70" lengthAdjust="spacingAndGlyphs">45</text>
<text x="35.05" y="1382" font-size="26.3" font-weight="bold" fill="#1a1a1a" textLength="92.00" lengthAdjust="spacing">30 a 39</text>
<rect x="33.00" y="1388.5" width="203.00" height="28" fill="#e8473d"/>
<rect x="236.00" y="1388.5" width="369.00" height="28" fill="#f39200"/>
<rect x="605.00" y="1388.5" width="349.50" height="28" fill="#95a5b0"/>
<rect x="235.50" y="1388.5" width="1" height="28" fill="#fff" opacity="0.7"/>
<rect x="604.50" y="1388.5" width="1" height="28" fill="#fff" opacity="0.7"/>
<text x="211.52" y="1411.00" font-size="27.5" font-weight="bold" fill="#fff" textLength="28.19" lengthAdjust="spacingAndGlyphs">22</text>
<text x="573.00" y="1408.40" font-size="27.5" font-weight="bold" fill="#1a1a1a" textLength="29.59" lengthAdjust="spacingAndGlyphs">40</text>
<text x="922.39" y="1412.00" font-size="27.5" font-weight="bold" fill="#fff" textLength="29.42" lengthAdjust="spacingAndGlyphs">38</text>
<text x="35.05" y="1444" font-size="26.3" font-weight="bold" fill="#1a1a1a" textLength="92.00" lengthAdjust="spacing">40 a 49</text>
<rect x="33.00" y="1449.8" width="314.00" height="28.4" fill="#e8473d"/>
<rect x="347.00" y="1449.8" width="323.50" height="28.4" fill="#f39200"/>
<rect x="670.50" y="1449.8" width="286.00" height="28.4" fill="#95a5b0"/>
<rect x="346.50" y="1449.8" width="1" height="28.4" fill="#fff" opacity="0.7"/>
<rect x="670.00" y="1449.8" width="1" height="28.4" fill="#fff" opacity="0.7"/>
<text x="321.36" y="1475.40" font-size="27.5" font-weight="bold" fill="#fff" textLength="25.96" lengthAdjust="spacingAndGlyphs">34</text>
<text x="641.92" y="1471.70" font-size="27.5" font-weight="bold" fill="#1a1a1a" textLength="28.29" lengthAdjust="spacingAndGlyphs">35</text>
<text x="922.36" y="1476.80" font-size="27.5" font-weight="bold" fill="#fff" textLength="30.93" lengthAdjust="spacingAndGlyphs">3 </text>
<path d="M860,0L570,0L570,1010C470,925 340,865 196,830L196,1080C290,1110 380,1160 460,1230C540,1300 590,1360 612,1409L860,1409Z" fill="#fff" transform="translate(937.82,1476.80) scale(0.01358,-0.01343)"/>
<text x="35.05" y="1506.5" font-size="26.3" font-weight="bold" fill="#1a1a1a" textLength="92.00" lengthAdjust="spacing">50 a 64</text>
<rect x="33.00" y="1514.2" width="471.90" height="28.5" fill="#e8473d"/>
<rect x="504.90" y="1514.2" width="258.10" height="28.5" fill="#f39200"/>
<rect x="763.00" y="1514.2" width="193.50" height="28.5" fill="#95a5b0"/>
<rect x="504.40" y="1514.2" width="1" height="28.5" fill="#fff" opacity="0.7"/>
<rect x="762.50" y="1514.2" width="1" height="28.5" fill="#fff" opacity="0.7"/>
<text x="482.34" y="1538.80" font-size="27.5" font-weight="bold" fill="#fff" textLength="27.65" lengthAdjust="spacingAndGlyphs">5 </text>
<path d="M860,0L570,0L570,1010C470,925 340,865 196,830L196,1080C290,1110 380,1160 460,1230C540,1300 590,1360 612,1409L860,1409Z" fill="#fff" transform="translate(496.16,1538.80) scale(0.01214,-0.01343)"/>
<text x="735.13" y="1537.90" font-size="27.5" font-weight="bold" fill="#1a1a1a" textLength="27.84" lengthAdjust="spacingAndGlyphs">28</text>
<text x="921.97" y="1538.70" font-size="27.5" font-weight="bold" fill="#fff" textLength="33.08" lengthAdjust="spacingAndGlyphs">2 </text>
<path d="M860,0L570,0L570,1010C470,925 340,865 196,830L196,1080C290,1110 380,1160 460,1230C540,1300 590,1360 612,1409L860,1409Z" fill="#fff" transform="translate(938.51,1538.70) scale(0.01452,-0.01343)"/>
<text x="33" y="1595" font-size="23" fill="#8c8c8c" textLength="113" lengthAdjust="spacingAndGlyphs">Fonte: Inaf</text>
</svg>
</body></html>
